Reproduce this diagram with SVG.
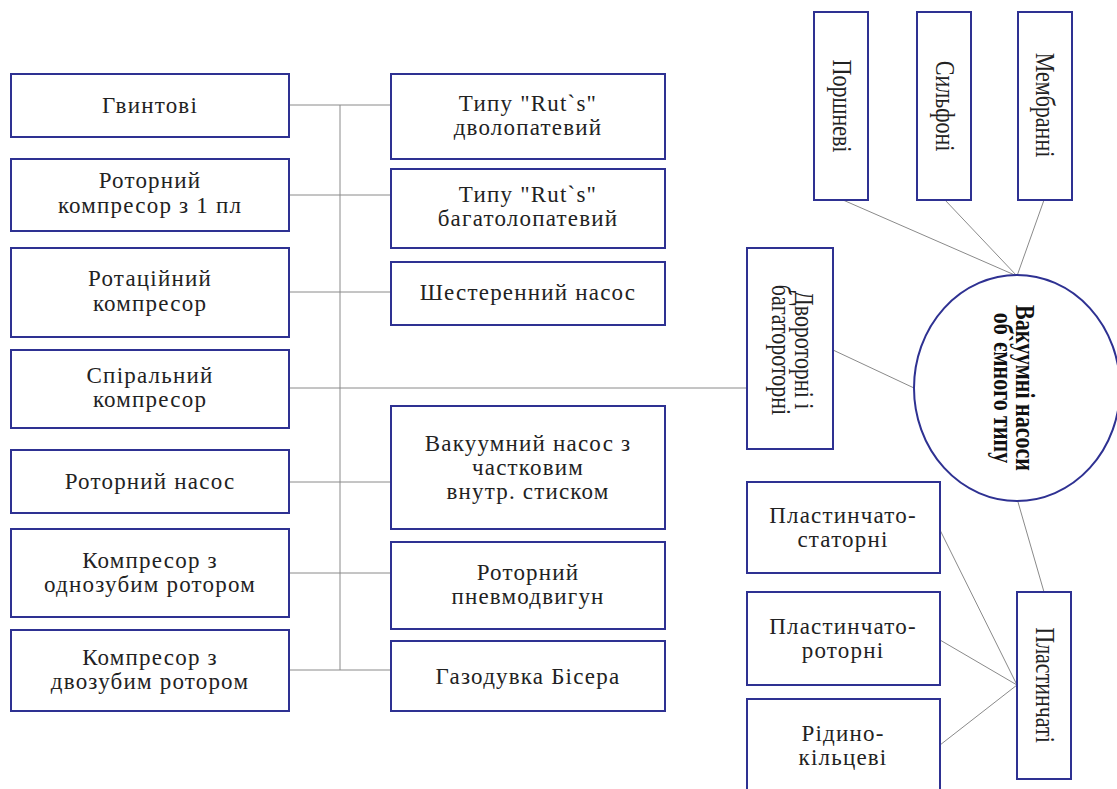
<svg xmlns="http://www.w3.org/2000/svg" width="1117" height="789" viewBox="0 0 1117 789">
<style>
.box{fill:#fff;stroke:#2e3192;stroke-width:2}
.t{font-family:"Liberation Serif","Times New Roman",serif;font-size:23px;fill:#222;text-anchor:middle;letter-spacing:1.2px}
.v{font-family:"Liberation Serif","Times New Roman",serif;font-size:22px;fill:#222;text-anchor:middle}
.b{font-family:"Liberation Serif","Times New Roman",serif;font-size:22px;font-weight:bold;fill:#111;text-anchor:middle}
.c{stroke:#8a8a8a;stroke-width:1;fill:none}
</style>
<rect width="1117" height="789" fill="#fff"/>
<g id="connectors" class="c">
<path d="M289 105H391M289 195H391M289 292H391M289 482H391M289 573H391M289 670H391M340 105V670M289 388H747"/>
<path d="M843 200L1017 276M945 200L1017 276M1044 200L1017 276M833 350L914 388M1018 502L1044 592M940 530L1017 685M940 640L1017 685M940 745L1017 685"/>
</g>
<g id="n1"><rect class="box" x="11" y="74" width="278" height="63"/><text class="t" x="150" y="113">Гвинтові</text></g>
<g id="n2"><rect class="box" x="11" y="159" width="278" height="72"/><text class="t" x="150" y="188">Роторний<tspan x="150" dy="25">компресор з 1 пл</tspan></text></g>
<g id="n3"><rect class="box" x="11" y="248" width="278" height="89"/><text class="t" x="150" y="286">Ротаційний<tspan x="150" dy="25">компресор</tspan></text></g>
<g id="n4"><rect class="box" x="11" y="350" width="278" height="78"/><text class="t" x="150" y="383">Спіральний<tspan x="150" dy="24">компресор</tspan></text></g>
<g id="n5"><rect class="box" x="11" y="450" width="278" height="63"/><text class="t" x="150" y="489">Роторний насос</text></g>
<g id="n6"><rect class="box" x="11" y="529" width="278" height="88"/><text class="t" x="150" y="568">Компресор з<tspan x="150" dy="24">однозубим ротором</tspan></text></g>
<g id="n7"><rect class="box" x="11" y="630" width="278" height="81"/><text class="t" x="150" y="665">Компресор з<tspan x="150" dy="24">двозубим ротором</tspan></text></g>
<g id="m1"><rect class="box" x="391" y="74" width="274" height="85"/><text class="t" x="528" y="111">Типу "Rut`s"<tspan x="528" dy="24">дволопатевий</tspan></text></g>
<g id="m2"><rect class="box" x="391" y="169" width="274" height="79"/><text class="t" x="528" y="202">Типу "Rut`s"<tspan x="528" dy="24">багатолопатевий</tspan></text></g>
<g id="m3"><rect class="box" x="391" y="262" width="274" height="63"/><text class="t" x="528" y="300">Шестеренний насос</text></g>
<g id="m4"><rect class="box" x="391" y="406" width="274" height="123"/><text class="t" x="528" y="451">Вакуумний насос з<tspan x="528" dy="24">частковим</tspan><tspan x="528" dy="24">внутр. стиском</tspan></text></g>
<g id="m5"><rect class="box" x="391" y="542" width="274" height="87"/><text class="t" x="528" y="580">Роторний<tspan x="528" dy="24">пневмодвигун</tspan></text></g>
<g id="m6"><rect class="box" x="391" y="641" width="274" height="70"/><text class="t" x="528" y="684">Газодувка Бісера</text></g>
<g id="r1"><rect class="box" x="814" y="12" width="54" height="188"/><text class="v" transform="translate(833,106) rotate(90) scale(1,1.25)">Поршневі</text></g>
<g id="r2"><rect class="box" x="917" y="12" width="54" height="188"/><text class="v" transform="translate(936,106) rotate(90) scale(1,1.25)">Сильфоні</text></g>
<g id="r3"><rect class="box" x="1018" y="12" width="54" height="188"/><text class="v" transform="translate(1036,105) rotate(90) scale(1,1.25)">Мембранні</text></g>
<g id="r4"><rect class="box" x="747" y="248" width="86" height="201"/><text class="v" transform="translate(790,350) rotate(90) scale(1,1.2)"><tspan x="0" y="-4">Двороторні і</tspan><tspan x="0" y="15">багатороторні</tspan></text></g>
<g id="root"><ellipse class="box" cx="1017" cy="388" rx="103" ry="113"/><text class="b" transform="translate(1005,388) rotate(90) scale(1,1.2)"><tspan x="0" y="-9">Вакуумні насоси</tspan><tspan x="0" y="9.5">об`ємного типу</tspan></text></g>
<g id="r5"><rect class="box" x="747" y="482" width="193" height="91"/><text class="t" x="843" y="523">Пластинчато-<tspan x="843" dy="24">статорні</tspan></text></g>
<g id="r6"><rect class="box" x="747" y="592" width="193" height="93"/><text class="t" x="843" y="634">Пластинчато-<tspan x="843" dy="24">роторні</tspan></text></g>
<g id="r7"><rect class="box" x="747" y="699" width="193" height="96"/><text class="t" x="843" y="741">Рідино-<tspan x="843" dy="24">кільцеві</tspan></text></g>
<g id="r8"><rect class="box" x="1017" y="592" width="54" height="187"/><text class="v" transform="translate(1036,685) rotate(90) scale(1,1.25)">Пластинчаті</text></g>
</svg>
